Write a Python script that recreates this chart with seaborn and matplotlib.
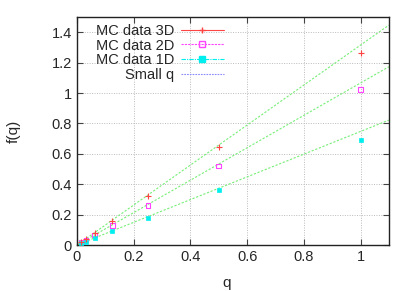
import numpy as np
import pandas as pd
import matplotlib
matplotlib.use("Agg")
import matplotlib.pyplot as plt
import seaborn as sns
from matplotlib.lines import Line2D

# data
q = [0.015625, 0.03125, 0.0625, 0.125, 0.25, 0.5, 1.0]
f_3d = [0.020, 0.040, 0.080, 0.160, 0.320, 0.645, 1.265]
f_2d = [0.016, 0.033, 0.065, 0.130, 0.260, 0.520, 1.024]
f_1d = [0.011, 0.022, 0.045, 0.090, 0.180, 0.360, 0.690]
err_3d = [0.004, 0.004, 0.005, 0.006, 0.007, 0.008, 0.010]

# small-q slopes
slopes = [1.315, 1.066, 0.747]
q_line = [0.0, 1.1]

sns.set_style("ticks")
plt.rcParams['font.family'] = ['Liberation Sans', 'DejaVu Sans']

fig = plt.figure(figsize=(4.15, 2.91), dpi=100)
ax = fig.add_axes([0.1855, 0.158, 0.7515, 0.7836])

df = pd.DataFrame({'q': q, '3D': f_3d, '2D': f_2d, '1D': f_1d})

# small q lines
for s in slopes:
    ax.plot(q_line, [s * x for x in q_line], color='#77ee77', lw=0.8,
            ls=(0, (2, 1.5)), zorder=2)

ax.errorbar(df['q'], df['3D'], yerr=err_3d, fmt='+', color='#ff4444',
            ms=4, mew=0.8, elinewidth=0.8, capsize=0, zorder=3)
sns.scatterplot(data=df, x='q', y='2D', ax=ax, marker='s', s=11,
                facecolor='none', edgecolor='#ff44ff', linewidth=0.8, zorder=3)
sns.scatterplot(data=df, x='q', y='1D', ax=ax, marker='s', s=10,
                color='#00eeee', edgecolor='#00eeee', linewidth=0.5, zorder=3)

ax.set_xlim(0, 1.1)
ax.set_ylim(0, 1.5)
ax.set_xticks([0, 0.2, 0.4, 0.6, 0.8, 1])
ax.set_xticklabels(['0', '0.2', '0.4', '0.6', '0.8', '1'])
ax.set_yticks([0, 0.2, 0.4, 0.6, 0.8, 1, 1.2, 1.4])
ax.set_yticklabels(['0', '0.2', '0.4', '0.6', '0.8', '1', '1.2', '1.4'])
ax.grid(True, color='#bbbbbb', ls=(0, (1, 1.5)), lw=0.7)
ax.tick_params(direction='in', top=True, right=True, labelsize=10.5, length=4,
               width=0.8, color='#444444')
for sp in ax.spines.values():
    sp.set_linewidth(1.0)
    sp.set_color('#222222')

ax.set_xlabel('q', fontsize=11)
ax.set_ylabel('f(q)', fontsize=11)
ax.xaxis.set_label_coords(0.48, -0.135)
ax.yaxis.set_label_coords(-0.18, 0.5)

handles = [
    Line2D([], [], color='#ff4444', marker='+', ms=5, lw=0.8),
    Line2D([], [], color='#ff44ff', marker='s', ms=4, mfc='none', lw=0.8,
           ls=(0, (2, 1))),
    Line2D([], [], color='#00eeee', marker='s', ms=4, lw=0.8, ls=(0, (4, 1, 1, 1))),
    Line2D([], [], color='#8888ff', lw=0.8, ls=(0, (1.5, 1))),
]
labels = ['MC data 3D', 'MC data 2D', 'MC data 1D', 'Small q']
ax.legend(handles, labels, loc='upper right', bbox_to_anchor=(0.47, 0.97),
          frameon=False, markerfirst=False, fontsize=10.5, handlelength=2.9,
          labelspacing=0.05, handletextpad=0.5, borderaxespad=0, borderpad=0)

fig.savefig('out.png', dpi=100)
